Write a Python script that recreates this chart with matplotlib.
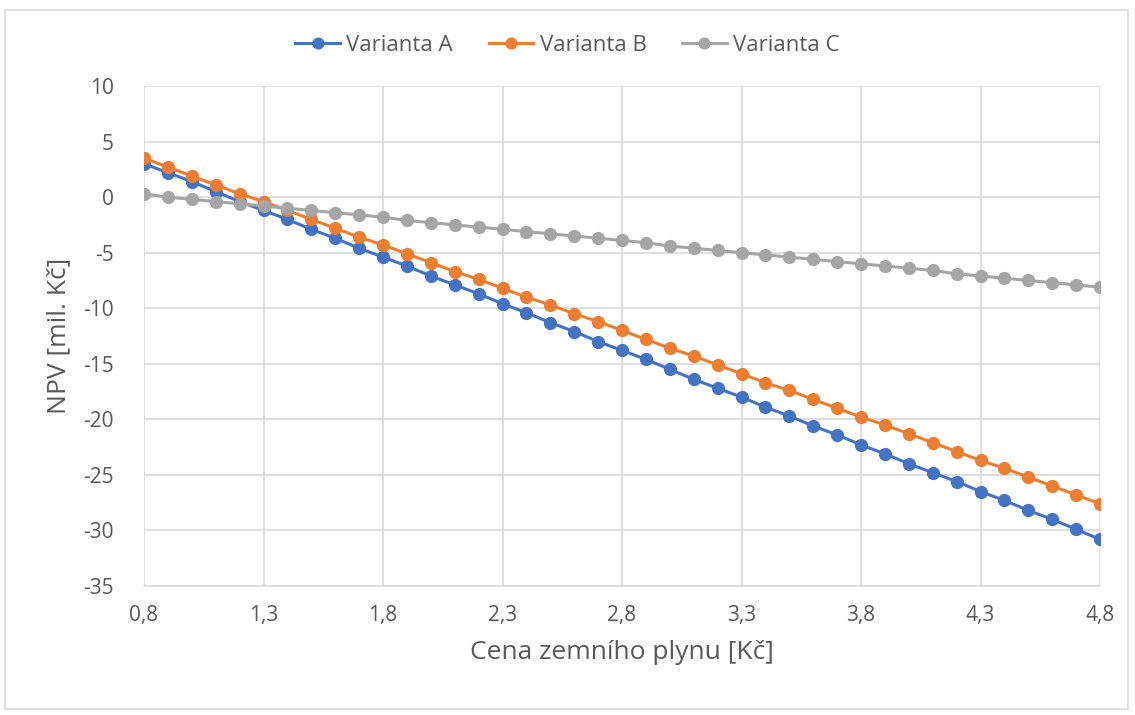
import numpy as np
import matplotlib.pyplot as plt
from matplotlib.ticker import FuncFormatter
from matplotlib.patches import Rectangle

plt.rcParams['font.family'] = ['Open Sans', 'DejaVu Sans']
plt.rcParams['axes.unicode_minus'] = False

cena = [0.8, 0.9, 1.0, 1.1, 1.2, 1.3, 1.4, 1.5, 1.6, 1.7, 1.8, 1.9, 2.0, 2.1,
        2.2, 2.3, 2.4, 2.5, 2.6, 2.7, 2.8, 2.9, 3.0, 3.1, 3.2, 3.3, 3.4, 3.5,
        3.6, 3.7, 3.8, 3.9, 4.0, 4.1, 4.2, 4.3, 4.4, 4.5, 4.6, 4.7, 4.8]
varianta_a = [3.0, 2.2, 1.4, 0.5, -0.4, -1.2, -2.0, -2.9, -3.7, -4.6, -5.4,
              -6.2, -7.1, -7.9, -8.7, -9.6, -10.4, -11.3, -12.1, -13.0, -13.8,
              -14.6, -15.5, -16.4, -17.2, -18.0, -18.9, -19.7, -20.6, -21.4,
              -22.3, -23.1, -24.0, -24.8, -25.6, -26.5, -27.3, -28.2, -29.0,
              -29.9, -30.8]
varianta_b = [3.5, 2.7, 1.9, 1.1, 0.3, -0.4, -1.2, -2.0, -2.8, -3.6, -4.3,
              -5.1, -5.9, -6.7, -7.4, -8.2, -9.0, -9.7, -10.5, -11.2, -12.0,
              -12.8, -13.6, -14.3, -15.1, -15.9, -16.7, -17.4, -18.2, -19.0,
              -19.8, -20.5, -21.3, -22.1, -22.9, -23.7, -24.4, -25.2, -26.0,
              -26.8, -27.6]
varianta_c = [0.3, 0.0, -0.2, -0.4, -0.6, -0.8, -1.0, -1.2, -1.4, -1.6, -1.8,
              -2.1, -2.3, -2.5, -2.7, -2.9, -3.1, -3.3, -3.5, -3.7, -3.9, -4.1,
              -4.4, -4.6, -4.8, -5.0, -5.2, -5.4, -5.6, -5.8, -6.0, -6.2, -6.4,
              -6.6, -6.9, -7.1, -7.3, -7.5, -7.7, -7.9, -8.1]

text_col = '#595959'
grid_col = '#d9d9d9'

fig = plt.figure(figsize=(11.35, 7.15), dpi=100)
fig.patches.append(Rectangle((0.004, 0.008), 0.99, 0.978, transform=fig.transFigure,
                             fill=False, edgecolor='#d9d9d9', linewidth=1.2))
ax = fig.add_axes([0.1269, 0.1804, 0.8423, 0.6993])

ax.plot(cena, varianta_a, color='#4472c4', lw=2.2, marker='o', ms=8.5, label='Varianta A', zorder=3)
ax.plot(cena, varianta_b, color='#ed7d31', lw=2.2, marker='o', ms=8.5, label='Varianta B', zorder=3)
ax.plot(cena, varianta_c, color='#a5a5a5', lw=2.2, marker='o', ms=8.5, label='Varianta C', zorder=3)

ax.set_xlim(0.8, 4.8)
ax.set_ylim(-35, 10)
ax.set_xticks(np.arange(0.8, 4.81, 0.5))
ax.set_yticks(np.arange(-35, 11, 5))
ax.xaxis.set_major_formatter(FuncFormatter(lambda v, p: f'{v:.1f}'.replace('.', ',')))
ax.grid(True, color=grid_col, lw=1.2)
ax.set_axisbelow(True)
for s in ['top', 'right', 'left']:
    ax.spines[s].set_visible(False)
ax.spines['bottom'].set_color(grid_col)
ax.spines['bottom'].set_linewidth(1.2)
ax.tick_params(length=0, labelsize=15, colors=text_col, pad=14)
ax.tick_params(axis='y', pad=22)

ax.set_xlabel('Cena zemního plynu [Kč]', fontsize=19, color=text_col, labelpad=10)
ax.set_ylabel('NPV [mil. Kč]', fontsize=19, color=text_col, labelpad=8)

fig.legend(loc='center', bbox_to_anchor=(0.5, 0.936), ncol=3, frameon=False,
           fontsize=16, labelcolor=text_col, handlelength=2.0, handletextpad=0.3,
           columnspacing=1.6, markerscale=0.9)

fig.savefig('out.png', dpi=100)
